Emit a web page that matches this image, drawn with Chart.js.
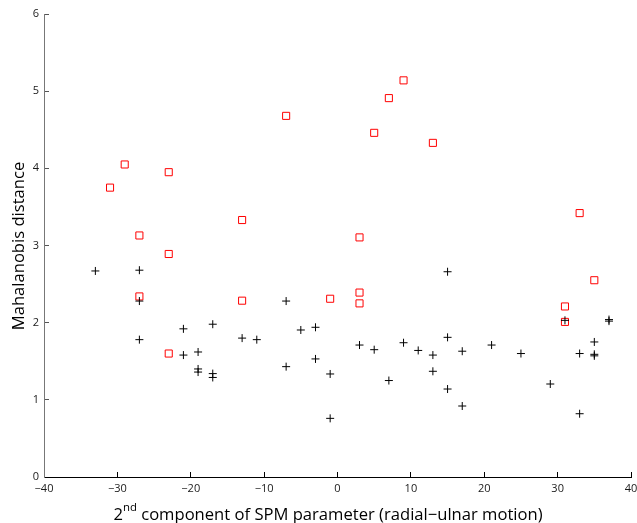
<!DOCTYPE html>
<html>
<head>
<meta charset="utf-8">
<script src="https://cdn.jsdelivr.net/npm/chart.js@4.4.0/dist/chart.umd.min.js"></script>
<style>
body { margin: 0; background: #fff; }
</style>
</head>
<body>
<canvas id="grafico" width="637" height="523"></canvas>
<script>
// ticks de los ejes
const ticksX = [-40, -30, -20, -10, 0, 10, 20, 30, 40]
const ticksY = [0, 1, 2, 3, 4, 5, 6]

// cuadrados rojos
const rojoX = [-31, -29, -27, -27, -23, -23, -23, -13, -13, -7, -1, 3, 3, 3, 5, 7, 9, 13, 31, 31, 33, 35]
const rojoY = [3.75, 4.05, 3.13, 2.34, 3.95, 2.89, 1.60, 3.33, 2.285, 4.68, 2.31, 3.105, 2.39, 2.25, 4.46, 4.91, 5.14, 4.33, 2.21, 2.01, 3.42, 2.55]

// cruces negras
const negroX = [-33, -27, -27, -27, -21, -21, -19, -19, -19, -17, -17, -17, -13, -11, -7, -7, -5, -3, -3, -1, -1,
	3, 5, 7, 9, 11, 13, 13, 15, 15, 15, 17, 17, 21, 25, 29, 31, 33, 33, 35, 35, 35, 37, 37]
const negroY = [2.67, 2.68, 2.28, 1.78, 1.92, 1.58, 1.62, 1.40, 1.36, 1.98, 1.34, 1.29, 1.80, 1.78, 2.28, 1.43, 1.905, 1.94, 1.53, 1.335, 0.76,
	1.71, 1.65, 1.25, 1.74, 1.64, 1.58, 1.37, 2.66, 1.81, 1.14, 1.63, 0.92, 1.71, 1.60, 1.205, 2.03, 1.60, 0.82, 1.75, 1.59, 1.57, 2.04, 2.02]

const aPuntos = (xs, ys) => xs.map((x, i) => ({x: x, y: ys[i]}))
const conMenos = (v) => String(v).replace('-', '\u2212') //signo menos como en matlab

//titulos de los ejes dibujados a mano (el del eje x lleva superindice)
const titulosEjes = {
	id: 'titulosEjes',
	afterDraw(chart) {
		const ctx = chart.ctx
		ctx.save()
		ctx.fillStyle = '#000'
		ctx.textBaseline = 'alphabetic'
		ctx.textAlign = 'left'
		const grande = '16.6px "Open Sans"'
		const chico = '11.4px "Open Sans"'
		const resto = ' component of SPM parameter (radial\u2212ulnar motion)'
		ctx.font = grande
		const w1 = ctx.measureText('2').width
		const w3 = ctx.measureText(resto).width
		ctx.font = chico
		const w2 = ctx.measureText('nd').width
		let x = 328 - (w1 + w2 + w3) / 2
		ctx.font = grande
		ctx.fillText('2', x, 520)
		x += w1
		ctx.font = chico
		ctx.fillText('nd', x, 511)
		x += w2
		ctx.font = grande
		ctx.fillText(resto, x, 520)

		ctx.translate(24, 246)
		ctx.rotate(-Math.PI / 2)
		ctx.textAlign = 'center'
		ctx.fillText('Mahalanobis distance', 0, 0)
		ctx.restore()
	}
}

new Chart(document.getElementById('grafico'), {
	type: 'scatter',
	data: {
		datasets: [
			{
				label: 'negro',
				data: aPuntos(negroX, negroY),
				pointStyle: 'cross',
				pointRadius: 4,
				borderColor: '#000',
				borderWidth: 1
			},
			{
				label: 'rojo',
				data: aPuntos(rojoX, rojoY),
				pointStyle: 'rect',
				pointRadius: 5,
				borderColor: '#ff0000',
				backgroundColor: 'rgba(0,0,0,0)',
				borderWidth: 1
			}
		]
	},
	options: {
		responsive: false,
		animation: false,
		events: [],
		layout: { padding: { top: 14, right: 5, left: 0, bottom: 0 } },
		plugins: {
			legend: { display: false },
			tooltip: { enabled: false }
		},
		scales: {
			x: {
				type: 'linear',
				min: -40,
				max: 40,
				afterBuildTicks: (scale) => { scale.ticks = ticksX.map(v => ({value: v})) },
				afterFit: (scale) => { scale.height = 46; scale.paddingLeft = 0; scale.paddingRight = 0 },
				border: { color: '#000', width: 1 },
				grid: { drawOnChartArea: false, tickLength: -5, color: '#000' },
				ticks: {
					padding: 10,
					maxRotation: 0,
					color: '#1a1a1a',
					font: { family: 'Open Sans', size: 11 },
					callback: conMenos
				}
			},
			y: {
				type: 'linear',
				min: 0,
				max: 6,
				afterBuildTicks: (scale) => { scale.ticks = ticksY.map(v => ({value: v})) },
				afterFit: (scale) => { scale.width = 44; scale.paddingTop = 0; scale.paddingBottom = 0 },
				border: { color: '#777', width: 1 },
				grid: { drawOnChartArea: false, tickLength: -5, color: '#555' },
				ticks: {
					padding: 10,
					color: '#1a1a1a',
					font: { family: 'Open Sans', size: 11 },
					callback: conMenos
				}
			}
		}
	},
	plugins: [titulosEjes]
})
</script>
</body>
</html>
